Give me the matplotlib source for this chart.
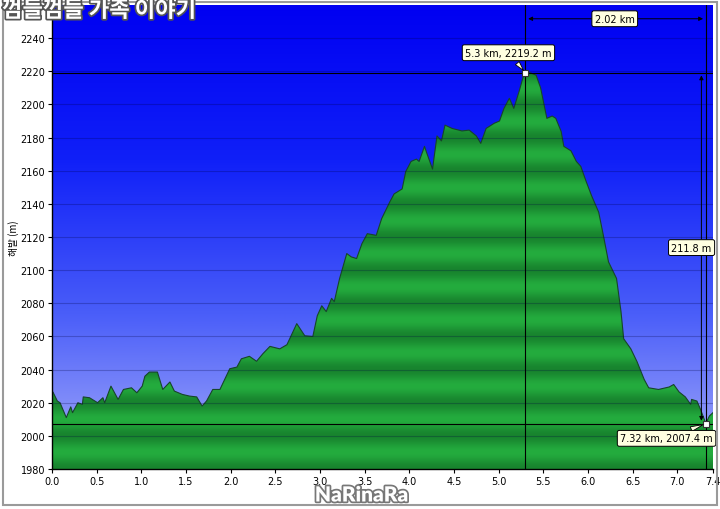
import matplotlib.pyplot as plt
import matplotlib.patheffects as pe
from matplotlib.colors import LinearSegmentedColormap
from matplotlib.patches import Polygon, Rectangle
import numpy as np

plt.rcParams.update({'font.size': 7, 'font.family': ['DejaVu Sans', 'Noto Sans CJK KR']})

# elevation profile (km, m)
dist_km = [0.00, 0.01, 0.06, 0.09, 0.16, 0.21, 0.23, 0.29, 0.34, 0.35, 0.42, 0.51, 0.57, 0.59,
           0.66, 0.74, 0.80, 0.89, 0.95, 1.01, 1.04, 1.09, 1.18, 1.24, 1.32, 1.37, 1.46, 1.54,
           1.62, 1.68, 1.73, 1.80, 1.88, 1.99, 2.07, 2.12, 2.21, 2.29, 2.36, 2.44, 2.55, 2.63,
           2.74, 2.83, 2.92, 2.97, 3.02, 3.07, 3.13, 3.16, 3.22, 3.30, 3.35, 3.41, 3.47, 3.53,
           3.63, 3.69, 3.78, 3.83, 3.92, 3.96, 4.02, 4.08, 4.11, 4.17, 4.20, 4.26, 4.31, 4.36,
           4.40, 4.48, 4.59, 4.67, 4.75, 4.80, 4.86, 4.95, 5.01, 5.06, 5.12, 5.17, 5.23, 5.28,
           5.30, 5.36, 5.42, 5.47, 5.51, 5.54, 5.60, 5.64, 5.70, 5.73, 5.81, 5.87, 5.92, 5.98,
           6.04, 6.12, 6.18, 6.23, 6.32, 6.37, 6.40, 6.48, 6.55, 6.63, 6.68, 6.79, 6.91, 6.96,
           7.02, 7.09, 7.15, 7.16, 7.22, 7.26, 7.32, 7.36, 7.40]
elev_m = [2025, 2026.5, 2021, 2020, 2011, 2017.5, 2014, 2020, 2019, 2023.5, 2023, 2020, 2023, 2020,
          2030, 2022, 2028, 2029, 2026, 2030, 2036, 2038.5, 2038.5, 2028, 2032.5, 2027, 2025, 2024,
          2023.5, 2018, 2021, 2028, 2028, 2040.5, 2041.5, 2046.5, 2048, 2045, 2049.5, 2054, 2052.5, 2055,
          2067.7, 2060.4, 2060, 2072.5, 2078.5, 2075, 2083, 2081, 2095, 2110, 2108, 2107, 2116, 2122,
          2121, 2131, 2141, 2146, 2149, 2159.5, 2165.6, 2167, 2165.6, 2174.7, 2170, 2161, 2181, 2178,
          2187.5, 2185.5, 2184, 2184.5, 2181, 2176.5, 2185.5, 2188.6, 2190, 2197.6, 2203.7, 2197.6, 2208, 2217.6,
          2219.2, 2219, 2217.6, 2210, 2199.5, 2191.6, 2193, 2191.6, 2183.7, 2174.7, 2172, 2165.6, 2162.6, 2153.5,
          2145, 2135, 2119, 2105, 2095, 2075, 2058.6, 2052.5, 2044.7, 2034, 2029, 2028, 2029.5, 2031,
          2026.5, 2023.5, 2019, 2022, 2021, 2016, 2007.4, 2012, 2014]

y_ticks = list(range(1980, 2241, 20))
x_ticks = [0.0, 0.5, 1.0, 1.5, 2.0, 2.5, 3.0, 3.5, 4.0, 4.5, 5.0, 5.5, 6.0, 6.5, 7.0, 7.4]

peak = (5.3, 2219.2)
end_pt = (7.32, 2007.4)
dist_label = '2.02 km'
climb_label = '211.8 m'

x0, x1 = 0, 7.4
y0, y1 = 1980, 2260

f = plt.figure(figsize=(7.2, 5.1), dpi=100, facecolor='white')
ax = f.add_axes([52/720, 40/510, 661/720, 464/510])
ax.set_xlim(x0, x1)
ax.set_ylim(y0, y1)

# blue sky gradient
sky = LinearSegmentedColormap.from_list('sky', ['#a8aef9', '#4a5ef9', '#1020f8', '#0000f2'])
grad = np.linspace(0, 1, 256).reshape(-1, 1)
ax.imshow(grad, extent=[x0, x1, y0, y1], origin='lower', aspect='auto', cmap=sky, zorder=0)

# banded green fill clipped to the profile
yy = np.linspace(y0, y1, 600)
band = 0.5 - 0.5*np.cos(2*np.pi*(yy - y0)/20)
dark = np.array([24, 132, 46])/255
light = np.array([36, 172, 62])/255
green = dark + band[:, None]*(light - dark)
green = np.repeat(green[:, None, :], 2, axis=1)
im = ax.imshow(green, extent=[x0, x1, y0, y1], origin='lower', aspect='auto', zorder=1)
verts = list(zip(dist_km, elev_m)) + [(dist_km[-1], y0), (dist_km[0], y0)]
poly = Polygon(verts, closed=True, fc='none', ec='none', transform=ax.transData)
ax.add_patch(poly)
im.set_clip_path(poly)
ax.plot(dist_km, elev_m, color='#17452a', lw=0.8, zorder=2)

for yt in y_ticks[1:]:
    ax.axhline(yt, color='#000040', alpha=0.25, lw=0.8, zorder=3)

# marker lines
ax.axhline(peak[1], color='black', lw=0.8, zorder=4)
ax.axvline(peak[0], color='black', lw=0.8, zorder=4)
ax.axhline(end_pt[1], color='black', lw=0.8, zorder=4)
ax.axvline(end_pt[0], color='black', lw=0.8, zorder=4)
ax.plot(*zip(peak, end_pt), ls='none', marker='s', ms=4, mfc='white', mec='#333333', mew=0.8, zorder=6)

# dimension arrows
ax.annotate('', xy=(peak[0], 2251.7), xytext=(end_pt[0], 2251.7),
            arrowprops=dict(arrowstyle='<|-|>', color='black', lw=0.7, mutation_scale=6), zorder=5)
ax.annotate('', xy=(7.27, peak[1]), xytext=(7.27, end_pt[1]),
            arrowprops=dict(arrowstyle='<|-|>', color='black', lw=0.7, mutation_scale=6), zorder=5)

box = dict(boxstyle='round,pad=0.3,rounding_size=0.2', fc='#ffffe1', ec='black', lw=0.7)
ax.text(6.30, 2251.7, dist_label, ha='center', va='center', bbox=box, zorder=7)
ax.text(7.16, 2113.6, climb_label, ha='center', va='center', bbox=box, zorder=7)
ax.annotate('{} km, {} m'.format(*peak), xy=peak, xytext=(5.11, 2231.2), ha='center', va='center',
            bbox=box, zorder=7,
            arrowprops=dict(arrowstyle='wedge,tail_width=0.5', fc='#ffffe1', ec='black', lw=0.6))
ax.annotate('{} km, {} m'.format(*end_pt), xy=end_pt, xytext=(6.88, 1998.5), ha='center', va='center',
            bbox=box, zorder=7,
            arrowprops=dict(arrowstyle='wedge,tail_width=0.5', fc='#ffffe1', ec='black', lw=0.6))

ax.set_xticks(x_ticks)
ax.set_xticklabels(['{:.1f}'.format(x) for x in x_ticks])
ax.set_yticks(y_ticks)
ax.tick_params(direction='out', length=3, width=0.8, labelsize=7, pad=2)
for s in ['top', 'right']:
    ax.spines[s].set_visible(False)
ax.spines['left'].set_linewidth(1)
ax.spines['bottom'].set_linewidth(1)
ax.set_ylabel('해발 (m)', family=['Noto Sans CJK KR', 'DejaVu Sans'], fontsize=7, labelpad=1)

# frame and watermarks
f.patches.append(Rectangle((3/720, 4/510), 714/720, 503/510, transform=f.transFigure,
                           fill=False, ec='#9a9a9a', lw=1.5))
f.text(2/720, 1.0, '껌들껌들 가족 이야기', family=['Noto Sans CJK KR'], fontsize=16, weight='bold',
       color='white', ha='left', va='top',
       path_effects=[pe.withStroke(linewidth=2.5, foreground='#555555')])
f.text(362/720, 14/510, 'NaRinaRa', family=['Lato'], fontsize=15, weight='heavy',
       color='white', ha='center', va='center',
       path_effects=[pe.withStroke(linewidth=2.5, foreground='#777777')])

f.savefig('out.png', dpi=100, facecolor='white')
